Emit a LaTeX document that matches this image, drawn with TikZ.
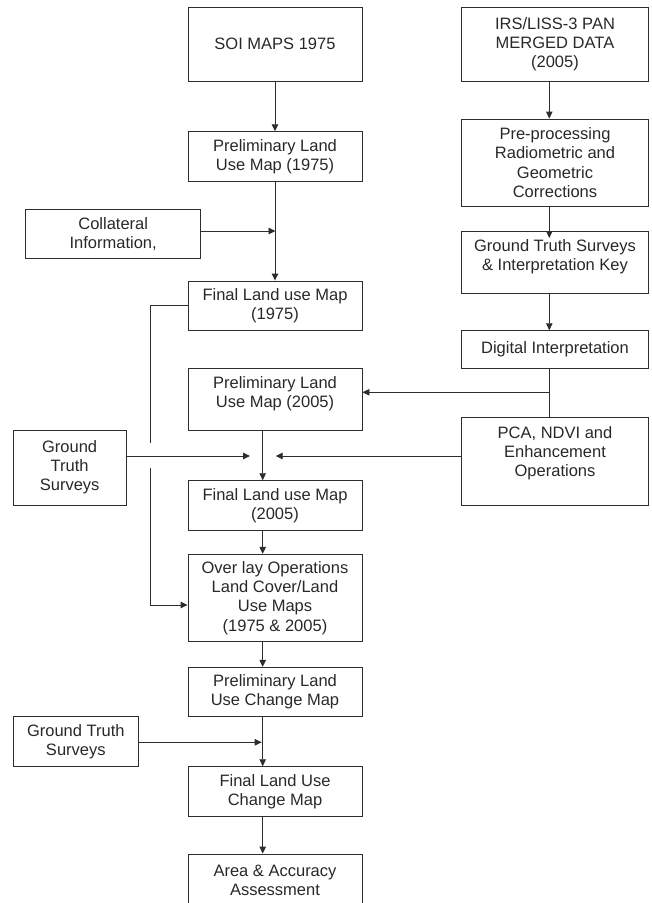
\documentclass[tikz,border=0pt]{standalone}
\usepackage{fontspec}
\setmainfont{Liberation Sans}
\usetikzlibrary{arrows.meta}
\definecolor{linec}{RGB}{45,45,45}
\definecolor{textc}{RGB}{40,40,40}
\newcommand\boxfont{\fontsize{16.5}{19.2}\selectfont}
\tikzset{
  box/.style={draw=linec, line width=0.9pt, inner sep=0pt, align=center, font=\boxfont, text=textc},
  lbl/.style={inner sep=0pt, align=center, font=\boxfont, text=textc},
  arr/.style={draw=linec, line width=0.9pt, -{Triangle[length=7pt,width=6.5pt]}},
  ln/.style={draw=linec, line width=0.9pt}
}
\begin{document}
\begin{tikzpicture}[x=1pt,y=-1pt]
\useasboundingbox (0,0) rectangle (652,903);
% left column
\node[box, minimum width=174pt, minimum height=73.7pt] (soi) at (275,44.15) {SOI MAPS 1975};
\node[box, minimum width=174pt, minimum height=49.6pt] (p75) at (275,156.5) {Preliminary Land\\Use Map (1975)};
\node[box, minimum width=175pt, minimum height=49.7pt] (coll) at (113.2,233.85) {Collateral\\Information,};
\node[box, minimum width=174pt, minimum height=49.5pt] (f75) at (275,305.75) {Final Land use Map\\(1975)};
\node[box, minimum width=174pt, minimum height=61.7pt,
      label={[lbl,yshift=5.5pt]center:{Preliminary Land\\Use Map (2005)}}] (p05) at (275,399.15) {};
\node[box, minimum width=112.7pt, minimum height=75pt] (gts) at (69.65,467.5) {Ground\\Truth\\Surveys};
\node[box, minimum width=174pt, minimum height=50pt] (f05) at (275,505.7) {Final Land use Map\\(2005)};
\node[box, minimum width=174pt, minimum height=87.4pt] (ovl) at (275,598) {Over lay Operations\\Land Cover/Land\\Use Maps\\(1975 \& 2005)};
\node[box, minimum width=174pt, minimum height=49.4pt] (plcm) at (275,692) {Preliminary Land\\Use Change Map};
\node[box, minimum width=125pt, minimum height=50pt] (gts2) at (75.8,741.7) {Ground Truth\\Surveys};
\node[box, minimum width=174pt, minimum height=50pt] (flcm) at (275,791.7) {Final Land Use\\Change Map};
\node[box, minimum width=174pt, minimum height=52pt] (area) at (275,880) {Area \& Accuracy\\Assessment};
% right column
\node[box, minimum width=186.6pt, minimum height=73.7pt] (irs) at (555,44.15) {IRS/LISS-3 PAN\\MERGED DATA\\(2005)};
\node[box, minimum width=186.6pt, minimum height=87pt] (pre) at (555,162.5) {Pre-processing\\Radiometric and\\Geometric\\Corrections};
\node[box, minimum width=186.6pt, minimum height=62pt,
      label={[lbl,yshift=5pt]center:{Ground Truth Surveys\\\& Interpretation Key}}] (gtsik) at (555,262) {};
\node[box, minimum width=186.6pt, minimum height=37.6pt] (dig) at (555,349.5) {Digital Interpretation};
\node[box, minimum width=186.6pt, minimum height=87.3pt,
      label={[lbl,yshift=8pt]center:{PCA, NDVI and\\Enhancement\\Operations}}] (pca) at (555,461.35) {};
% coordinates
\coordinate (c1) at (275.5,231);
\coordinate (c2) at (549.3,238);
\coordinate (c3) at (549.3,392.3);
\coordinate (c4) at (275.7,456);
\coordinate (c5) at (250,456);
\coordinate (c6) at (150.7,305.7);
\coordinate (c7) at (150.7,442.7);
\coordinate (c8) at (150.7,468.3);
\coordinate (c9) at (261.7,742.3);
% connectors left
\draw[arr] (soi.south) -- (p75.north);
\draw[arr] (p75.south) -- (f75.north);
\draw[arr] (coll.east |- c1) -- (c1);
\draw[arr] (p05.south -| 262.7,0) -- (f05.north -| 262.7,0);
\draw[arr] (f05.south -| 262.7,0) -- (ovl.north -| 262.7,0);
\draw[arr] (ovl.south -| 262.7,0) -- (plcm.north -| 262.7,0);
\draw[arr] (plcm.south -| 262.7,0) -- (flcm.north -| 262.7,0);
\draw[arr] (flcm.south -| 262.7,0) -- (area.north -| 262.7,0);
\draw[arr] (gts.east |- c5) -- (c5);
\draw[arr] (gts2.east |- c9) -- (c9);
\draw[ln] (f75.west |- c6) -- (c6) -- (c7);
\draw[arr] (c8) |- (ovl.west |- 0,605);
% connectors right
\draw[arr] (irs.south -| c2) -- (pre.north -| c2);
\draw[arr] (pre.south -| c2) -- (c2);
\draw[arr] (gtsik.south -| c2) -- (dig.north -| c2);
\draw[ln] (dig.south -| c2) -- (pca.north -| c2);
\draw[arr] (c3) -- (p05.east |- c3);
\draw[arr] (pca.west |- c4) -- (c4);
\end{tikzpicture}
\end{document}
